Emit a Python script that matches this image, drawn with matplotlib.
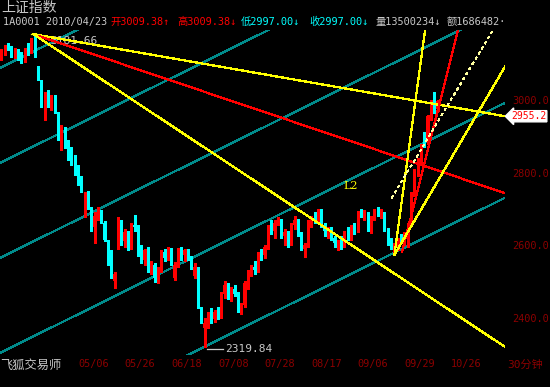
import matplotlib
matplotlib.use('Agg')
import matplotlib.pyplot as plt

# daily bars of 上证指数, 2010-04-01 .. 2010-10-19 (bar index 0..131)
opens = [3120, 3135, 3148, 3140, 3125, 3136, 3118, 3108, 3140, 3132, 3165, 3090,
         3050, 2955, 3015, 2990, 3005, 2965, 2890, 2920, 2880, 2865, 2835, 2800,
         2770, 2700, 2745, 2700, 2650, 2680, 2690, 2660, 2610, 2560, 2500, 2595,
         2665, 2612, 2630, 2595, 2655, 2650, 2580, 2560, 2580, 2540, 2545, 2510,
         2530, 2580, 2565, 2588, 2510, 2545, 2585, 2572, 2585, 2565, 2515, 2535,
         2425, 2370, 2385, 2405, 2395, 2415, 2405, 2465, 2488, 2460, 2480, 2465,
         2420, 2435, 2495, 2525, 2540, 2530, 2575, 2572, 2595, 2650, 2640, 2660,
         2668, 2625, 2635, 2605, 2655, 2670, 2630, 2590, 2600, 2665, 2675, 2668,
         2695, 2655, 2640, 2645, 2620, 2605, 2610, 2600, 2635, 2620, 2650, 2640,
         2690, 2685, 2690, 2645, 2675, 2695, 2688, 2690, 2645, 2610, 2580, 2590,
         2615, 2610, 2600, 2660, 2740, 2800, 2835, 2900, 2885, 2955, 3000, 2975]
highs = [3140, 3152, 3157, 3150, 3143, 3140, 3132, 3143, 3157, 3171, 3181.66, 3094,
         3055, 3022, 3028, 3014, 3014, 2968, 2931, 2925, 2890, 2870, 2848, 2821,
         2790, 2745, 2750, 2705, 2690, 2705, 2697, 2665, 2615, 2586, 2525, 2678,
         2670, 2645, 2640, 2660, 2683, 2655, 2600, 2590, 2595, 2555, 2550, 2540,
         2585, 2590, 2595, 2592, 2553, 2592, 2594, 2590, 2590, 2570, 2550, 2538,
         2430, 2400, 2415, 2425, 2420, 2430, 2470, 2500, 2495, 2485, 2490, 2470,
         2440, 2500, 2530, 2545, 2555, 2580, 2590, 2600, 2655, 2668, 2670, 2678,
         2672, 2645, 2640, 2660, 2680, 2672, 2635, 2605, 2670, 2680, 2690, 2700,
         2698, 2660, 2650, 2650, 2625, 2615, 2625, 2640, 2650, 2655, 2660, 2695,
         2700, 2697, 2692, 2680, 2700, 2705, 2698, 2692, 2648, 2620, 2605, 2620,
         2630, 2635, 2660, 2745, 2810, 2840, 2880, 2912, 2960, 3000, 3022, 3000]
lows = [3110, 3124, 3138, 3119, 3115, 3110, 3102, 3105, 3124, 3130, 3119, 3055,
        2981, 2945, 2981, 2972, 2964, 2890, 2862, 2868, 2834, 2821, 2793, 2766,
        2745, 2677, 2700, 2640, 2605, 2670, 2660, 2610, 2545, 2510, 2481, 2590,
        2600, 2594, 2586, 2590, 2640, 2570, 2550, 2545, 2525, 2520, 2497, 2495,
        2525, 2555, 2560, 2545, 2503, 2540, 2560, 2555, 2560, 2535, 2510, 2425,
        2385, 2319.84, 2370, 2385, 2388, 2395, 2400, 2455, 2450, 2445, 2460, 2415,
        2410, 2430, 2480, 2515, 2520, 2525, 2560, 2565, 2590, 2630, 2620, 2655,
        2620, 2600, 2595, 2600, 2645, 2625, 2585, 2567, 2595, 2650, 2660, 2660,
        2650, 2625, 2620, 2615, 2595, 2586, 2590, 2595, 2615, 2615, 2630, 2635,
        2678, 2670, 2640, 2633, 2670, 2680, 2675, 2640, 2600, 2590, 2573, 2585,
        2605, 2600, 2595, 2655, 2735, 2790, 2825, 2870, 2880, 2945, 2965, 2970]
closes = [3135, 3145, 3142, 3125, 3138, 3118, 3108, 3140, 3130, 3165, 3130, 3060,
          2990, 3015, 2990, 3005, 2970, 2900, 2925, 2875, 2860, 2830, 2800, 2775,
          2752, 2735, 2705, 2650, 2680, 2695, 2665, 2615, 2555, 2515, 2520, 2670,
          2610, 2635, 2592, 2655, 2650, 2580, 2560, 2585, 2535, 2550, 2510, 2530,
          2580, 2565, 2590, 2550, 2545, 2585, 2570, 2585, 2565, 2545, 2540, 2430,
          2398, 2385, 2405, 2395, 2415, 2400, 2465, 2490, 2460, 2480, 2465, 2425,
          2435, 2495, 2525, 2540, 2530, 2575, 2570, 2595, 2650, 2640, 2660, 2670,
          2625, 2635, 2600, 2655, 2670, 2630, 2595, 2600, 2665, 2675, 2668, 2695,
          2655, 2640, 2645, 2620, 2605, 2610, 2600, 2635, 2620, 2650, 2640, 2690,
          2685, 2690, 2645, 2675, 2695, 2688, 2690, 2645, 2610, 2595, 2590, 2615,
          2610, 2625, 2655, 2738, 2805, 2835, 2875, 2880, 2955, 2995, 2975, 2997]

date_ticks = [23, 37, 51, 65, 79, 93, 107, 121, 135]
date_labels = ['05/06', '05/26', '06/18', '07/08', '07/28', '08/17', '09/06', '09/29', '10/26']
price_ticks = [2400, 2600, 2800, 3000]

x_min, x_max = -0.45, 151.2
y_min, y_max = 2296.6, 3193.1

peak = (9.6, 3181.66)
low_jul = (61, 2319.84)

# lines drawn from the April peak: end bar, end price, colour
peak_lines = [(151.2, 2955.2, '#ffff00'),
              (151.2, 2743.0, '#ff0000'),
              (151.2, 2319.0, '#ffff00')]

# parallel channel through the July low
channel_slope = 4.55          # points per bar
channel_offsets = [0, 262, 524, 786, 1048]

# fan drawn from the September low: start, end, colour, style
fan_lines = [((118.0, 2573), (127.2, 3193), '#ffff00', '-'),
             ((120.3, 2581), (137.1, 3193), '#ff0000', '-'),
             ((117.2, 2730), (147.6, 3193), '#ffffa0', (0, (2, 3))),
             ((118.0, 2573), (151.2, 3092), '#ffff00', '-')]

RED = '#ff0000'
CYAN = '#00ffff'
TEAL = '#008b8b'
DARKRED = '#8b0000'
GRAY = '#c8c8c8'
MONO = ['DejaVu Sans Mono', 'Noto Sans CJK SC']

fig = plt.figure(figsize=(5.5, 3.87), dpi=100, facecolor='black')
ax = fig.add_axes([0, 32 / 387, 505 / 550, 325 / 387])
ax.set_facecolor('black')
ax.set_xlim(x_min, x_max)
ax.set_ylim(y_min, y_max)
for s in ax.spines.values():
    s.set_visible(False)

# candles
for i in range(len(closes)):
    o, h, l, c = opens[i], highs[i], lows[i], closes[i]
    col = RED if c >= o else CYAN
    ax.vlines(i, l, h, color=col, lw=0.8, antialiased=False, zorder=3)
    ax.bar(i, max(abs(c - o), 2), bottom=min(o, c), width=0.75, color=col,
           linewidth=0, antialiased=False, zorder=3)

# channel
for k in channel_offsets:
    y0 = low_jul[1] + k + channel_slope * (x_min - low_jul[0])
    y1 = low_jul[1] + k + channel_slope * (x_max - low_jul[0])
    ax.plot([x_min, x_max], [y0, y1], color=TEAL, lw=0.9, antialiased=False, zorder=2)

for xe, pe, col in peak_lines:
    ax.plot([peak[0], xe], [peak[1], pe], color=col, lw=0.9, antialiased=False, zorder=4)

for (xa, ya), (xb, yb), col, ls in fan_lines:
    ax.plot([xa, xb], [ya, yb], color=col, lw=0.9, ls=ls, antialiased=False, zorder=4)

ax.plot([peak[0] - 0.6, peak[0] + 1.2], [peak[1], peak[1]], color='#ffff00', lw=0.9, zorder=4)

# labels on the chart
ax.text(14.6, 3163, '3181.66', color=GRAY, family=MONO, fontsize=8, va='center', ha='left')
ax.plot([61.8, 66.6], [2313, 2313], color=GRAY, lw=0.9, clip_on=False)
ax.text(67.2, 2313, '2319.84', color=GRAY, family=MONO, fontsize=8, va='center', ha='left',
        clip_on=False)
ax.text(105, 2763, 'L2', color='#ffff00', family='DejaVu Serif', fontsize=8, va='center', ha='center')

ax.annotate('2955.2', xy=(peak_lines[0][0], peak_lines[0][1]), xytext=(6, 0),
            textcoords='offset pixels', ha='left', va='center', color=RED,
            family=MONO, fontsize=7.0, annotation_clip=False,
            bbox=dict(boxstyle='larrow,pad=0.06', fc='white', ec='white'))

# axes ticks
ax.yaxis.tick_right()
ax.set_yticks(price_ticks)
ax.set_yticklabels(['%.1f' % p for p in price_ticks])
ax.set_xticks(date_ticks)
ax.set_xticklabels(date_labels, ha='left')
ax.tick_params(axis='both', length=0, colors=DARKRED, labelsize=7.4)
ax.tick_params(axis='y', pad=5)
ax.tick_params(axis='x', pad=3)
for lab in ax.get_xticklabels() + ax.get_yticklabels():
    lab.set_family(MONO)

# header
def ftext(px, py, s, col, size=7.4):
    fig.text(px / 550, 1 - py / 387, s, color=col, family=MONO, fontsize=size,
             ha='left', va='center')

ftext(1, 8, '上证指数', GRAY, 10)
ftext(3, 22, '1A0001 2010/04/23', GRAY)
ftext(110, 22, '开3009.38↑', RED)
ftext(177, 22, '高3009.38↓', RED)
ftext(241, 22, '低2997.00↓', CYAN)
ftext(309, 22, '收2997.00↓', CYAN)
ftext(375, 22, '量13500234↓', GRAY)
ftext(447, 22, '额1686482·', GRAY)

ftext(0, 365, '飞狐交易师', GRAY, 8.8)
ftext(507, 365, '30分钟', DARKRED, 8)

fig.savefig('out.png', dpi=100, facecolor='black')
